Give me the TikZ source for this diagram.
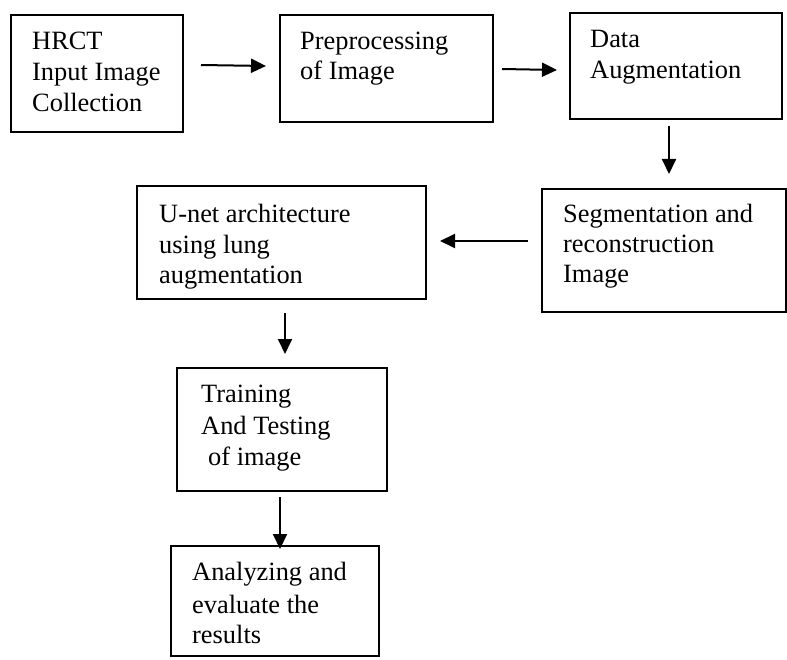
\documentclass[tikz,border=0pt]{standalone}
\usepackage{fontspec}
\setmainfont{Liberation Serif}
\usetikzlibrary{arrows.meta}
\begin{document}
\begin{tikzpicture}[x=1pt,y=-1pt,
  box/.style={draw=black,line width=1.8pt,rectangle,inner sep=0pt,outer sep=0pt},
  txt/.style={anchor=base west,inner sep=0pt,font=\fontsize{26.4pt}{31pt}\selectfont},
  conn/.style={line width=2pt,-{Triangle[length=15pt,width=14pt]}}]
\useasboundingbox[fill=white] (0,0) rectangle (787,660);
% boxes
\node[box,minimum width=172pt,minimum height=117pt] (b1) at (97,73.5) {};
\node[box,minimum width=213pt,minimum height=107pt] (b2) at (386.5,68.5) {};
\node[box,minimum width=212pt,minimum height=106pt] (b3) at (676,66) {};
\node[box,minimum width=244pt,minimum height=123pt] (b4) at (664,250.5) {};
\node[box,minimum width=289pt,minimum height=113pt] (b5) at (281.5,242.5) {};
\node[box,minimum width=210pt,minimum height=123pt] (b6) at (282,429.5) {};
\node[box,minimum width=208pt,minimum height=110pt] (b7) at (275,601) {};
% texts
\node[txt] (t1a) at (32,50) {HRCT};
\node[txt] (t1b) at (32,81) {Input Image};
\node[txt] (t1c) at (32,112) {Collection};
\node[txt] (t2a) at (300,50) {Preprocessing};
\node[txt] (t2b) at (300,80) {of Image};
\node[txt] (t3a) at (590,48) {Data};
\node[txt] (t3b) at (590,79) {Augmentation};
\node[txt] (t4a) at (563,223) {Segmentation and};
\node[txt] (t4b) at (563,253) {reconstruction};
\node[txt] (t4c) at (563,283) {Image};
\node[txt] (t5a) at (159,223) {U-net architecture};
\node[txt] (t5b) at (159,254) {using lung};
\node[txt] (t5c) at (159,284) {augmentation};
\node[txt] (t6a) at (201,402) {Training};
\node[txt] (t6b) at (201,434) {And Testing};
\node[txt] (t6c) at (208,465) {of image};
\node[txt] (t7a) at (192,580) {Analyzing and};
\node[txt] (t7b) at (192,613) {evaluate the};
\node[txt] (t7c) at (192,643) {results};
% connector ends
\coordinate (a1s) at (201,65);  \coordinate (a1e) at (266,66);
\coordinate (a2s) at (502,69);  \coordinate (a2e) at (557,70);
\coordinate (a3s) at (669,126); \coordinate (a3e) at (669,174);
\coordinate (a4s) at (528,241); \coordinate (a4e) at (440,241);
\coordinate (a5s) at (285,313); \coordinate (a5e) at (285,354);
\coordinate (a6s) at (280,497); \coordinate (a6e) at (280,549);
\draw[conn] (a1s) -- (a1e);
\draw[conn] (a2s) -- (a2e);
\draw[conn] (a3s) -- (a3e);
\draw[conn] (a4s) -- (a4e);
\draw[conn] (a5s) -- (a5e);
\draw[conn] (a6s) -- (a6e);
\end{tikzpicture}
\end{document}
